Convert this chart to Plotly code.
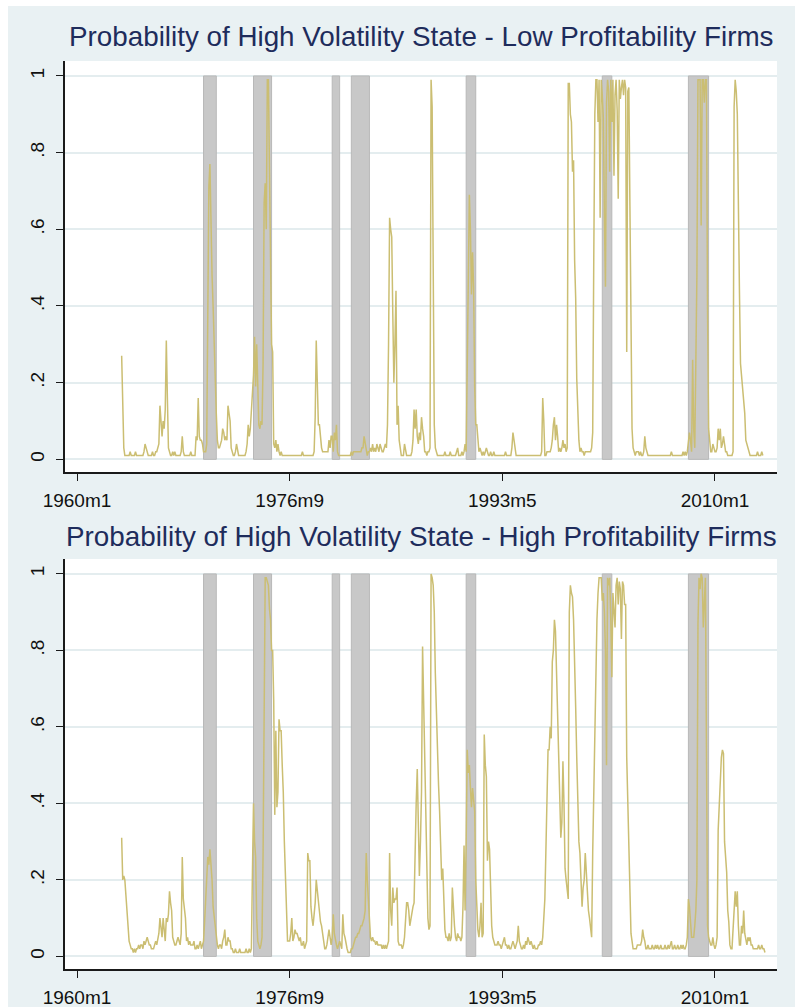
import plotly.graph_objects as go

# Monthly smoothed probabilities of the high-volatility regime
START = "1963m7"

low_prof = [
    # 1963 (Jul-Dec)
    0.27, 0.09, 0.03, 0.01, 0.01, 0.01,
    # 1964
    0.01, 0.01, 0.02, 0.01, 0.01, 0.01, 0.01, 0.02, 0.01, 0.01, 0.01, 0.01,
    # 1965
    0.01, 0.01, 0.01, 0.02, 0.04, 0.03, 0.02, 0.01, 0.01, 0.01, 0.01, 0.02,
    # 1966
    0.01, 0.01, 0.02, 0.02, 0.03, 0.04, 0.14, 0.10, 0.06, 0.10, 0.08, 0.13,
    # 1967
    0.31, 0.16, 0.03, 0.02, 0.01, 0.01, 0.02, 0.01, 0.02, 0.01, 0.01, 0.01,
    # 1968
    0.01, 0.01, 0.02, 0.06, 0.02, 0.01, 0.01, 0.01, 0.01, 0.01, 0.01, 0.02,
    # 1969
    0.01, 0.01, 0.01, 0.01, 0.06, 0.05, 0.16, 0.06, 0.05, 0.05, 0.04, 0.02,
    # 1970
    0.02, 0.02, 0.04, 0.45, 0.71, 0.77, 0.60, 0.48, 0.40, 0.28, 0.22, 0.12,
    # 1971
    0.05, 0.03, 0.03, 0.04, 0.05, 0.08, 0.07, 0.05, 0.06, 0.05, 0.14, 0.12,
    # 1972
    0.10, 0.03, 0.02, 0.01, 0.01, 0.02, 0.04, 0.02, 0.01, 0.01, 0.01, 0.01,
    # 1973
    0.01, 0.01, 0.01, 0.02, 0.04, 0.09, 0.06, 0.08, 0.13, 0.19, 0.22, 0.32,
    # 1974
    0.19, 0.30, 0.15, 0.09, 0.08, 0.10, 0.09, 0.25, 0.67, 0.72, 0.60, 0.99,
    # 1975
    0.99, 0.72, 0.60, 0.30, 0.28, 0.04, 0.03, 0.05, 0.02, 0.04, 0.02, 0.01,
    # 1976
    0.02, 0.01, 0.01, 0.01, 0.01, 0.01, 0.01, 0.01, 0.01, 0.01, 0.01, 0.01,
    # 1977
    0.01, 0.01, 0.01, 0.01, 0.01, 0.01, 0.01, 0.01, 0.02, 0.01, 0.01, 0.01,
    # 1978
    0.01, 0.01, 0.01, 0.01, 0.01, 0.01, 0.01, 0.02, 0.11, 0.31, 0.15, 0.09,
    # 1979
    0.09, 0.05, 0.03, 0.02, 0.02, 0.02, 0.02, 0.02, 0.02, 0.05, 0.03, 0.06,
    # 1980
    0.06, 0.02, 0.07, 0.05, 0.09, 0.02, 0.01, 0.01, 0.01, 0.01, 0.01, 0.01,
    # 1981
    0.01, 0.01, 0.01, 0.01, 0.01, 0.01, 0.02, 0.01, 0.02, 0.02, 0.02, 0.02,
    # 1982
    0.02, 0.02, 0.02, 0.02, 0.03, 0.03, 0.06, 0.04, 0.03, 0.01, 0.02, 0.02,
    # 1983
    0.03, 0.02, 0.04, 0.02, 0.03, 0.02, 0.04, 0.03, 0.02, 0.04, 0.03, 0.02,
    # 1984
    0.02, 0.03, 0.04, 0.03, 0.09, 0.30, 0.63, 0.60, 0.58, 0.38, 0.20, 0.30,
    # 1985
    0.44, 0.09, 0.14, 0.05, 0.02, 0.01, 0.01, 0.01, 0.04, 0.02, 0.01, 0.01,
    # 1986
    0.01, 0.01, 0.01, 0.02, 0.05, 0.13, 0.08, 0.13, 0.06, 0.04, 0.07, 0.05,
    # 1987
    0.11, 0.08, 0.06, 0.02, 0.02, 0.01, 0.02, 0.02, 0.03, 0.99, 0.92, 0.50,
    # 1988
    0.09, 0.03, 0.02, 0.01, 0.01, 0.01, 0.01, 0.01, 0.01, 0.01, 0.02, 0.01,
    # 1989
    0.01, 0.01, 0.01, 0.02, 0.01, 0.01, 0.01, 0.01, 0.01, 0.02, 0.03, 0.01,
    # 1990
    0.01, 0.01, 0.02, 0.01, 0.02, 0.04, 0.02, 0.28, 0.58, 0.69, 0.60, 0.43,
    # 1991
    0.54, 0.45, 0.19, 0.09, 0.09, 0.04, 0.02, 0.03, 0.02, 0.01, 0.02, 0.01,
    # 1992
    0.02, 0.03, 0.02, 0.01, 0.01, 0.02, 0.01, 0.01, 0.02, 0.01, 0.01, 0.01,
    # 1993
    0.01, 0.01, 0.01, 0.01, 0.01, 0.01, 0.01, 0.02, 0.01, 0.01, 0.01, 0.01,
    # 1994
    0.01, 0.03, 0.07, 0.05, 0.03, 0.01, 0.01, 0.01, 0.01, 0.01, 0.01, 0.01,
    # 1995
    0.01, 0.01, 0.01, 0.01, 0.01, 0.01, 0.01, 0.01, 0.01, 0.01, 0.01, 0.01,
    # 1996
    0.01, 0.01, 0.01, 0.01, 0.01, 0.02, 0.16, 0.10, 0.01, 0.01, 0.02, 0.02,
    # 1997
    0.02, 0.02, 0.03, 0.05, 0.09, 0.11, 0.05, 0.09, 0.06, 0.02, 0.03, 0.02,
    # 1998
    0.03, 0.05, 0.03, 0.04, 0.02, 0.03, 0.98, 0.98, 0.90, 0.88, 0.75, 0.78,
    # 1999
    0.52, 0.42, 0.21, 0.10, 0.05, 0.02, 0.03, 0.02, 0.02, 0.01, 0.02, 0.02,
    # 2000
    0.02, 0.02, 0.02, 0.02, 0.03, 0.07, 0.52, 0.90, 0.99, 0.99, 0.88, 0.99,
    # 2001
    0.63, 0.99, 0.95, 0.89, 0.63, 0.45, 0.93, 0.99, 0.96, 0.75, 0.99, 0.88,
    # 2002
    0.99, 0.74, 0.95, 0.99, 0.91, 0.68, 0.99, 0.94, 0.97, 0.99, 0.95, 0.99,
    # 2003
    0.97, 0.28, 0.96, 0.97, 0.66, 0.40, 0.08, 0.03, 0.02, 0.01, 0.02, 0.02,
    # 2004
    0.02, 0.01, 0.02, 0.01, 0.01, 0.02, 0.06, 0.03, 0.02, 0.01, 0.01, 0.01,
    # 2005
    0.01, 0.01, 0.01, 0.01, 0.01, 0.01, 0.01, 0.01, 0.01, 0.01, 0.01, 0.01,
    # 2006
    0.01, 0.01, 0.01, 0.01, 0.01, 0.01, 0.01, 0.02, 0.01, 0.01, 0.01, 0.01,
    # 2007
    0.01, 0.01, 0.01, 0.01, 0.01, 0.01, 0.02, 0.01, 0.02, 0.01, 0.02, 0.04,
    # 2008
    0.07, 0.05, 0.02, 0.26, 0.08, 0.03, 0.20, 0.48, 0.99, 0.99, 0.99, 0.61,
    # 2009
    0.99, 0.99, 0.93, 0.99, 0.99, 0.39, 0.08, 0.05, 0.02, 0.02, 0.04, 0.03,
    # 2010
    0.02, 0.02, 0.03, 0.08, 0.05, 0.08, 0.03, 0.04, 0.06, 0.04, 0.02, 0.02,
    # 2011
    0.01, 0.01, 0.01, 0.01, 0.01, 0.02, 0.92, 0.99, 0.96, 0.90, 0.60, 0.44,
    # 2012
    0.25, 0.22, 0.20, 0.16, 0.12, 0.05, 0.04, 0.03, 0.02, 0.01, 0.01, 0.01,
    # 2013 (Jan-Oct)
    0.01, 0.01, 0.01, 0.01, 0.02, 0.01, 0.01, 0.01, 0.02, 0.01,
]

high_prof = [
    # 1963 (Jul-Dec)
    0.31, 0.20, 0.21, 0.20, 0.16, 0.12,
    # 1964
    0.08, 0.04, 0.03, 0.02, 0.02, 0.01, 0.02, 0.01, 0.02, 0.02, 0.03, 0.02,
    # 1965
    0.03, 0.03, 0.02, 0.04, 0.03, 0.04, 0.05, 0.04, 0.03, 0.03, 0.02, 0.02,
    # 1966
    0.02, 0.03, 0.04, 0.03, 0.05, 0.06, 0.10, 0.08, 0.05, 0.10, 0.07, 0.04,
    # 1967
    0.10, 0.09, 0.11, 0.17, 0.14, 0.12, 0.05, 0.04, 0.03, 0.03, 0.04, 0.05,
    # 1968
    0.04, 0.03, 0.06, 0.26, 0.15, 0.12, 0.10, 0.04, 0.05, 0.03, 0.04, 0.03,
    # 1969
    0.03, 0.03, 0.04, 0.02, 0.02, 0.03, 0.02, 0.03, 0.04, 0.02, 0.03, 0.04,
    # 1970
    0.09, 0.14, 0.20, 0.26, 0.24, 0.28, 0.24, 0.20, 0.13, 0.10, 0.08, 0.04,
    # 1971
    0.03, 0.02, 0.03, 0.03, 0.02, 0.04, 0.05, 0.07, 0.03, 0.03, 0.05, 0.04,
    # 1972
    0.04, 0.02, 0.02, 0.01, 0.01, 0.02, 0.01, 0.01, 0.01, 0.02, 0.01, 0.01,
    # 1973
    0.01, 0.01, 0.01, 0.02, 0.01, 0.01, 0.02, 0.01, 0.02, 0.22, 0.40, 0.30,
    # 1974
    0.26, 0.10, 0.04, 0.03, 0.02, 0.03, 0.05, 0.27, 0.80, 0.99, 0.99, 0.98,
    # 1975
    0.97, 0.91, 0.88, 0.80, 0.80, 0.67, 0.37, 0.59, 0.39, 0.43, 0.62, 0.59,
    # 1976
    0.59, 0.50, 0.43, 0.30, 0.20, 0.10, 0.04, 0.04, 0.04, 0.06, 0.10, 0.04,
    # 1977
    0.05, 0.07, 0.06, 0.06, 0.05, 0.04, 0.05, 0.03, 0.03, 0.04, 0.02, 0.03,
    # 1978
    0.04, 0.27, 0.25, 0.25, 0.13, 0.10, 0.08, 0.11, 0.14, 0.20, 0.17, 0.15,
    # 1979
    0.10, 0.09, 0.08, 0.05, 0.04, 0.02, 0.02, 0.03, 0.05, 0.07, 0.05, 0.03,
    # 1980
    0.05, 0.11, 0.06, 0.04, 0.03, 0.02, 0.03, 0.04, 0.03, 0.02, 0.11, 0.06,
    # 1981
    0.05, 0.03, 0.02, 0.01, 0.01, 0.01, 0.02, 0.02, 0.03, 0.04, 0.05, 0.05,
    # 1982
    0.06, 0.06, 0.07, 0.08, 0.08, 0.09, 0.10, 0.12, 0.27, 0.20, 0.15, 0.08,
    # 1983
    0.05, 0.04, 0.05, 0.04, 0.04, 0.03, 0.04, 0.03, 0.03, 0.03, 0.03, 0.02,
    # 1984
    0.03, 0.02, 0.03, 0.02, 0.03, 0.04, 0.27, 0.12, 0.08, 0.18, 0.14, 0.15,
    # 1985
    0.15, 0.18, 0.04, 0.03, 0.03, 0.03, 0.02, 0.03, 0.05, 0.09, 0.14, 0.14,
    # 1986
    0.12, 0.08, 0.10, 0.12, 0.13, 0.14, 0.32, 0.40, 0.49, 0.38, 0.21, 0.30,
    # 1987
    0.43, 0.81, 0.67, 0.52, 0.30, 0.16, 0.10, 0.07, 0.08, 1.00, 0.99, 0.97,
    # 1988
    0.90, 0.74, 0.62, 0.58, 0.45, 0.38, 0.27, 0.20, 0.23, 0.16, 0.07, 0.05,
    # 1989
    0.05, 0.04, 0.06, 0.04, 0.05, 0.18, 0.12, 0.08, 0.05, 0.04, 0.06, 0.05,
    # 1990
    0.05, 0.04, 0.05, 0.13, 0.29, 0.12, 0.30, 0.54, 0.48, 0.50, 0.44, 0.39,
    # 1991
    0.44, 0.40, 0.38, 0.20, 0.11, 0.07, 0.05, 0.08, 0.14, 0.05, 0.06, 0.58,
    # 1992
    0.50, 0.47, 0.25, 0.30, 0.28, 0.17, 0.08, 0.05, 0.04, 0.03, 0.03, 0.03,
    # 1993
    0.04, 0.03, 0.03, 0.02, 0.03, 0.04, 0.05, 0.03, 0.03, 0.02, 0.03, 0.02,
    # 1994
    0.02, 0.03, 0.04, 0.03, 0.02, 0.03, 0.04, 0.08, 0.04, 0.03, 0.02, 0.02,
    # 1995
    0.03, 0.02, 0.04, 0.03, 0.05, 0.04, 0.03, 0.04, 0.03, 0.02, 0.03, 0.02,
    # 1996
    0.02, 0.02, 0.03, 0.03, 0.04, 0.03, 0.05, 0.10, 0.15, 0.28, 0.43, 0.54,
    # 1997
    0.54, 0.60, 0.57, 0.77, 0.80, 0.88, 0.85, 0.73, 0.60, 0.50, 0.40, 0.31,
    # 1998
    0.35, 0.51, 0.40, 0.23, 0.20, 0.18, 0.15, 0.90, 0.97, 0.95, 0.94, 0.88,
    # 1999
    0.79, 0.65, 0.52, 0.40, 0.30, 0.27, 0.20, 0.13, 0.18, 0.20, 0.27, 0.22,
    # 2000
    0.15, 0.12, 0.10, 0.08, 0.05, 0.27, 0.45, 0.59, 0.82, 0.88, 0.95, 0.99,
    # 2001
    0.99, 0.99, 0.93, 0.95, 0.90, 0.80, 0.50, 0.99, 0.97, 0.99, 0.88, 0.73,
    # 2002
    0.95, 0.90, 0.86, 0.97, 0.99, 0.92, 0.98, 0.96, 0.83, 0.98, 0.97, 0.92,
    # 2003
    0.92, 0.52, 0.40, 0.31, 0.12, 0.06, 0.04, 0.02, 0.02, 0.02, 0.02, 0.03,
    # 2004
    0.03, 0.03, 0.03, 0.04, 0.07, 0.05, 0.04, 0.02, 0.02, 0.03, 0.02, 0.02,
    # 2005
    0.02, 0.03, 0.02, 0.02, 0.03, 0.02, 0.03, 0.02, 0.02, 0.03, 0.02, 0.02,
    # 2006
    0.02, 0.03, 0.02, 0.02, 0.03, 0.02, 0.03, 0.04, 0.02, 0.02, 0.03, 0.02,
    # 2007
    0.02, 0.03, 0.02, 0.02, 0.03, 0.02, 0.03, 0.02, 0.02, 0.03, 0.05, 0.15,
    # 2008
    0.13, 0.08, 0.05, 0.05, 0.05, 0.08, 0.12, 0.20, 0.87, 0.99, 0.96, 1.00,
    # 2009
    0.99, 0.86, 0.95, 0.99, 0.54, 0.08, 0.05, 0.04, 0.03, 0.03, 0.05, 0.03,
    # 2010
    0.02, 0.03, 0.05, 0.33, 0.40, 0.46, 0.52, 0.54, 0.53, 0.30, 0.25, 0.22,
    # 2011
    0.12, 0.09, 0.03, 0.02, 0.02, 0.08, 0.10, 0.17, 0.13, 0.17, 0.08, 0.03,
    # 2012
    0.03, 0.08, 0.06, 0.12, 0.06, 0.04, 0.03, 0.05, 0.04, 0.05, 0.03, 0.03,
    # 2013
    0.02, 0.02, 0.02, 0.02, 0.02, 0.03, 0.02, 0.02, 0.03, 0.02, 0.02, 0.01,
]

# NBER recession periods (first and last month)
recessions = [
    ("1969m12", "1970m11"),
    ("1973m11", "1975m3"),
    ("1980m1", "1980m7"),
    ("1981m7", "1982m11"),
    ("1990m7", "1991m3"),
    ("2001m3", "2001m11"),
    ("2007m12", "2009m6"),
]

x_tick_labels = ["1960m1", "1976m9", "1993m5", "2010m1"]
y_tick_values = [0, 0.2, 0.4, 0.6, 0.8, 1]
y_tick_labels = ["0", ".2", ".4", ".6", ".8", "1"]

titles = [
    "Probability of High Volatility State - Low Profitability Firms",
    "Probability of High Volatility State - High Profitability Firms",
]


def tm(label):
    """Stata %tm value: months elapsed since 1960m1."""
    year, month = label.split("m")
    return (int(year) - 1960) * 12 + int(month) - 1


W, H = 795, 1007
BG = "#E9F1F3"
GRID = "#E4EDEF"
LINE = "#CBBE72"
SHADE = "#C8C8C8"
SHADE_EDGE = "#B8B8B8"
FONT = "Liberation Sans, Arial, sans-serif"

start = tm(START)
series = [low_prof, high_prof]

# Plot areas in pixels: (left, top, right, bottom)
panels = [(65, 61, 777, 472), (65, 559, 777, 969)]
title_y = [37, 536]

fig = go.Figure()

for k, values in enumerate(series):
    xa = "x" if k == 0 else "x2"
    ya = "y" if k == 0 else "y2"
    for first, last in recessions:
        a, b = tm(first), tm(last) + 1
        fig.add_trace(go.Scatter(
            x=[a, a, b, b, a], y=[0, 1, 1, 0, 0],
            mode="lines", fill="toself", fillcolor=SHADE,
            line=dict(color=SHADE_EDGE, width=1),
            hoverinfo="skip", showlegend=False, xaxis=xa, yaxis=ya,
        ))
    fig.add_trace(go.Scatter(
        x=[start + i for i in range(len(values))], y=values,
        mode="lines", line=dict(color=LINE, width=1.5),
        showlegend=False, xaxis=xa, yaxis=ya,
    ))

x_range = [(65 - 77) / 1.0633, (777 - 77) / 1.0633]
y_range = [-0.033, 1.039]

axis_common = dict(
    automargin=False,
    showline=True, linecolor="#1a1a1a", linewidth=1.6,
    ticks="outside", ticklen=7, tickwidth=1.4, tickcolor="#1a1a1a",
    tickfont=dict(family=FONT, size=19, color="#111111"),
    zeroline=False,
)

layout = dict(
    template="none",
    width=W, height=H,
    margin=dict(l=0, r=0, t=0, b=0, pad=0),
    paper_bgcolor=BG, plot_bgcolor="white",
    showlegend=False,
    annotations=[],
    shapes=[
        dict(type="rect", xref="paper", yref="paper", x0=0, x1=8 / W, y0=0, y1=1,
             fillcolor="white", line=dict(width=0), layer="below"),
        dict(type="rect", xref="paper", yref="paper", x0=0, x1=1, y0=1 - 6 / H, y1=1,
             fillcolor="white", line=dict(width=0), layer="below"),
    ],
)

for k, (l, t, r, b) in enumerate(panels):
    sx = "" if k == 0 else "2"
    layout["xaxis" + sx] = dict(
        axis_common,
        domain=[l / W, r / W], range=x_range, anchor="y" + sx,
        tickvals=[tm(s) for s in x_tick_labels], ticktext=x_tick_labels,
        showgrid=False, ticklabelstandoff=3,
    )
    layout["yaxis" + sx] = dict(
        axis_common,
        domain=[1 - b / H, 1 - t / H], range=y_range, anchor="x" + sx,
        tickvals=y_tick_values, ticktext=y_tick_labels, tickangle=-90,
        showgrid=True, gridcolor=GRID, gridwidth=1.5, ticklabelstandoff=5,
    )
    layout["annotations"].append(dict(
        text=titles[k], xref="paper", yref="paper",
        x=(l + r) / 2 / W, y=1 - title_y[k] / H,
        xanchor="center", yanchor="middle", showarrow=False,
        font=dict(family=FONT, size=27.8, color="#1E2C5C"),
    ))

fig.update_layout(**layout)
fig.write_html("out.html")
